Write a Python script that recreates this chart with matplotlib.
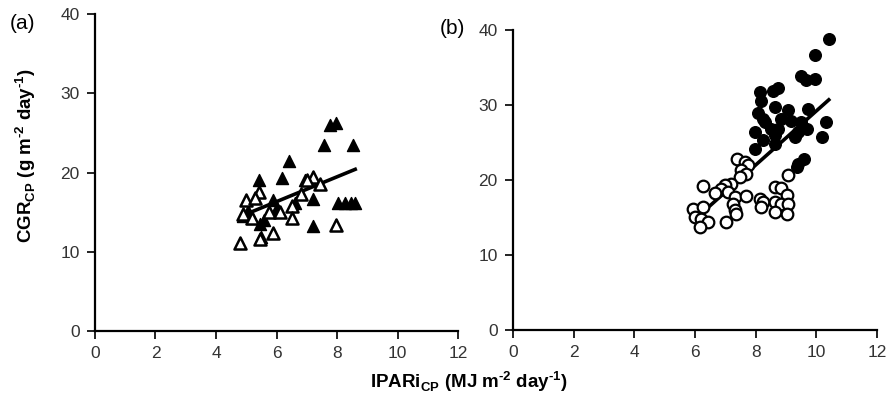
import matplotlib
matplotlib.use('Agg')
import matplotlib.pyplot as plt

plt.rcParams['font.family'] = ['Liberation Sans', 'DejaVu Sans']

# panel (a): triangles
a_filled_x = [7.77, 7.97, 7.57, 8.53, 6.41, 6.18, 5.42, 6.94, 7.2, 8.03, 8.26, 8.46, 8.6,
              7.2, 5.45, 5.9, 5.5, 4.9, 5.05, 5.2, 6.0, 6.6, 5.6]
a_filled_y = [26.05, 26.3, 23.5, 23.5, 21.5, 19.3, 19.1, 19.0, 16.7, 16.2, 16.1, 16.2, 16.2,
              13.3, 13.5, 16.5, 11.8, 14.5, 15.2, 14.3, 15.5, 16.2, 14.0]
a_open_x = [4.8, 5.45, 5.9, 7.97, 7.2, 7.0, 5.42, 5.0, 6.5, 5.75, 6.1, 6.5, 4.9, 5.2, 7.44, 5.3, 6.8]
a_open_y = [11.1, 11.6, 12.4, 13.4, 19.4, 19.0, 17.5, 16.5, 15.8, 15.0, 15.0, 14.3, 14.8, 14.3, 18.6, 16.8, 17.3]
a_line_x = [4.9, 8.6]
a_line_y = [14.6, 20.4]

# panel (b): circles
b_filled_x = [10.41, 9.94, 9.48, 9.65, 9.94, 8.72, 8.58, 8.15, 8.19, 9.74, 9.08, 8.65, 8.09,
              8.25, 8.32, 8.85, 9.18, 9.51, 9.68, 9.41, 10.31, 8.52, 8.75, 7.99, 8.65, 9.31,
              10.18, 8.25, 7.99, 8.65, 9.58, 9.41, 9.35]
b_filled_y = [38.8, 36.7, 33.9, 33.4, 33.5, 32.3, 31.9, 31.7, 30.6, 29.5, 29.3, 29.7, 29.0,
              28.1, 27.7, 28.1, 27.9, 27.7, 26.8, 26.4, 27.8, 26.8, 26.8, 26.4, 26.0, 25.7,
              25.7, 25.3, 24.1, 24.8, 22.8, 22.1, 21.7]
b_open_x = [7.39, 7.66, 7.76, 7.52, 7.69, 7.49, 9.08, 7.19, 6.99, 6.86, 6.26, 6.66, 7.09, 7.32,
            7.69, 8.65, 8.85, 8.15, 8.25, 9.02, 8.65, 8.82, 9.08, 7.26, 7.32, 7.36, 8.19, 8.65,
            9.02, 5.93, 6.26, 6.0, 6.2, 6.43, 6.17, 7.03]
b_open_y = [22.8, 22.4, 22.0, 21.3, 20.8, 20.4, 20.7, 19.5, 19.3, 18.8, 19.2, 18.3, 18.4, 17.7,
            17.9, 19.1, 18.9, 17.5, 17.1, 18.0, 17.1, 16.8, 16.8, 16.8, 16.0, 15.5, 16.4, 15.8,
            15.5, 16.2, 16.4, 15.1, 14.8, 14.4, 13.8, 14.4]
b_line_x = [6.0, 10.41]
b_line_y = [14.8, 30.7]

x_ticks = [0, 2, 4, 6, 8, 10, 12]
y_ticks = [0, 10, 20, 30, 40]

fig = plt.figure(figsize=(8.9, 4.05), dpi=100)
ax_a = fig.add_axes([0.1067, 0.1827, 0.408, 0.7827])
ax_b = fig.add_axes([0.5764, 0.185, 0.409, 0.7407])


def style_axis(ax):
    ax.set_xlim(0, 12)
    ax.set_ylim(0, 40)
    ax.set_xticks(x_ticks)
    ax.set_yticks(y_ticks)
    for side in ['top', 'right']:
        ax.spines[side].set_visible(False)
    for side in ['left', 'bottom']:
        ax.spines[side].set_linewidth(1.6)
    ax.tick_params(direction='out', length=6, width=1.4, labelsize=12.5, pad=5,
                   colors='#222222', labelcolor='#333333')


ax_a.plot(a_line_x, a_line_y, color='black', lw=2.6, zorder=3)
ax_a.scatter(a_filled_x, a_filled_y, marker='^', s=75, c='black', zorder=4)
ax_a.scatter(a_open_x, a_open_y, marker='^', s=75, facecolors='white', edgecolors='black',
             linewidths=1.8, zorder=5)
style_axis(ax_a)

ax_b.plot(b_line_x, b_line_y, color='black', lw=2.6, zorder=3)
ax_b.scatter(b_filled_x, b_filled_y, marker='o', s=70, c='black', zorder=4)
ax_b.scatter(b_open_x, b_open_y, marker='o', s=70, facecolors='white', edgecolors='black',
             linewidths=1.6, zorder=5)
style_axis(ax_b)

fig.text(0.011, 0.943, '(a)', fontsize=15, ha='left', va='center')
fig.text(0.494, 0.93, '(b)', fontsize=15, ha='left', va='center')
fig.text(0.029, 0.615,
         'CGR$_{\\mathregular{CP}}$ (g m$^{\\mathregular{\u20102}}$ day$^{\\mathregular{\u20101}}$)',
         rotation=90, fontsize=13.5, fontweight='bold', ha='center', va='center')
fig.text(0.527, 0.057,
         'IPARi$_{\\mathregular{CP}}$ (MJ m$^{\\mathregular{\u20102}}$ day$^{\\mathregular{\u20101}}$)',
         fontsize=13.5, fontweight='bold', ha='center', va='center')

fig.savefig('out.png', dpi=100)
